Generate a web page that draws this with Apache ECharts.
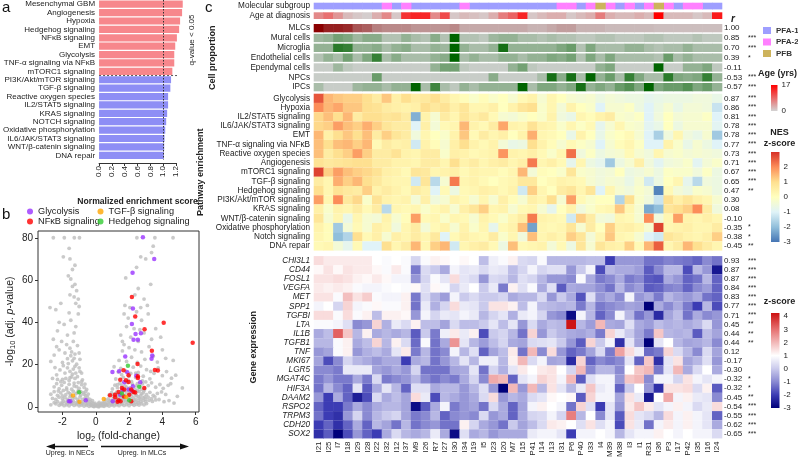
<!DOCTYPE html>
<html><head><meta charset="utf-8">
<script src="https://cdn.jsdelivr.net/npm/echarts@6/dist/echarts.min.js"></script>
<style>html,body{margin:0;padding:0;background:#fff}#c{width:798px;height:460px}</style>
</head><body><div id="c"></div>
<script>
const FONT = 'Liberation Sans, Arial, sans-serif';

// ---------- Panel a ----------
const nesTerms = ['Mesenchymal GBM','Angiogenesis','Hypoxia','Hedgehog signaling','NFκB signaling','EMT','Glycolysis','TNF-α signaling via NFκB','mTORC1 signaling','PI3K/Akt/mTOR signaling','TGF-β signaling','Reactive oxygen species','IL2/STAT5 signaling','KRAS signaling','NOTCH signaling','Oxidative phosphorylation','IL6/JAK/STAT3 signaling','WNT/β-catenin signaling','DNA repair'];
const nesScores = [1.305,1.295,1.264,1.249,1.214,1.188,1.173,1.173,1.143,1.123,1.112,1.077,1.077,1.062,1.047,1.032,1.021,1.016,1.011];
const nSig = 9;

// ---------- Panel b ----------
const greyPts = [
[-2.2,0.8],[-2.05,1.2],[-1.9,0.6],[-1.75,1.0],[-1.6,0.5],[-1.45,1.3],[-1.3,0.7],[-1.15,1.1],[-1.0,0.5],[-0.85,0.9],[-0.7,0.4],[-0.55,0.8],[-0.4,0.3],[-0.25,0.6],[-0.1,0.2],[0.05,0.4],[0.2,0.2],[0.35,0.5],[0.5,0.3],[0.65,0.7],[0.8,0.4],[0.95,0.9],[1.1,0.5],[1.25,1.0],[1.4,0.6],[1.55,1.2],[1.7,0.7],[1.85,1.1],[2.0,0.6],[2.15,1.3],[2.3,0.8],[2.45,1.2],[2.6,0.9],[2.75,1.5],[2.9,1.0],[3.05,1.6],
[-0.3,0.9],[-0.15,0.3],[0.1,0.7],[0.25,0.9],[0.45,0.6],[0.7,1.1],[0.15,0.1],[-0.05,0.6],[0.55,1.3],[0.3,1.4],[-0.5,1.4],[-0.95,1.4],[1.0,1.3],[1.3,1.5],[1.6,1.6],[1.95,1.7],[2.25,1.6],[2.55,1.9],[-1.7,1.6],[-2.0,1.9],[-2.4,1.5],[-2.7,1.0],[-1.4,1.8],[-1.1,1.8],[-0.8,1.6],
[-2.5,2.0],[-2.3,2.5],[-2.1,1.8],[-1.95,2.8],[-1.8,2.2],[-1.65,3.0],[-1.5,2.0],[-1.35,2.7],[-1.2,1.9],[-1.05,2.6],[-0.9,1.7],[-0.75,2.3],[-0.6,1.5],[-0.45,2.0],[-0.3,1.3],[-0.15,1.6],[0.0,1.1],[0.15,1.4],[0.3,1.0],[0.45,1.7],[0.6,1.4],[0.75,2.0],[0.9,1.6],[1.05,2.4],[1.2,1.8],[1.35,2.6],[1.5,2.1],[1.65,2.9],[1.8,2.3],[1.95,2.7],[2.1,2.0],[2.25,2.8],[2.4,2.2],[2.55,2.9],[2.7,2.4],[2.85,3.0],[3.0,2.5],[3.2,3.1],[3.4,2.6],[3.6,3.3],
[-2.6,4.0],[-2.4,3.5],[-2.2,4.6],[-2.0,3.8],[-1.85,4.5],[-1.7,3.6],[-1.55,4.8],[-1.4,3.9],[-1.25,4.4],[-1.1,3.6],[-0.95,4.7],[-0.8,3.5],[-0.65,4.0],[-0.5,3.2],[-0.35,3.6],[0.6,3.3],[0.75,3.8],[0.9,3.1],[1.05,4.2],[1.2,3.5],[1.35,4.6],[1.5,3.7],[1.65,4.4],[1.8,3.4],[1.95,4.8],[2.1,3.9],[2.25,4.5],[2.4,3.6],[2.55,4.9],[2.7,3.8],[2.85,4.3],[3.0,3.7],[3.15,4.6],[3.35,3.9],[3.55,4.8],[3.8,3.5],[4.1,2.5],[4.4,3.0],[4.7,1.8],
[-2.7,6.0],[-2.5,7.2],[-2.3,5.5],[-2.1,6.6],[-1.95,7.8],[-1.8,5.8],[-1.65,6.9],[-1.5,5.4],[-1.35,7.4],[-1.2,6.2],[-1.05,7.7],[-0.9,5.6],[-0.75,6.8],[-0.6,5.3],[-0.45,6.1],[0.8,5.6],[0.95,6.8],[1.1,5.2],[1.25,7.0],[1.4,6.0],[1.55,7.5],[1.7,5.5],[1.85,6.7],[2.0,7.9],[2.15,5.7],[2.3,6.9],[2.45,5.3],[2.6,7.3],[2.75,6.2],[2.9,7.6],[3.05,5.8],[3.25,6.9],[3.45,5.5],[3.7,6.4],[3.95,7.1],[4.2,5.9],
[-2.5,9.5],[-2.35,11.0],[-2.2,8.6],[-2.05,10.2],[-1.9,11.6],[-1.75,9.0],[-1.6,10.7],[-1.45,8.4],[-1.3,11.3],[-1.15,9.6],[-1.0,8.8],[-0.85,10.5],[-0.7,9.2],[-0.55,8.3],[1.0,8.5],[1.15,10.3],[1.3,9.1],[1.45,11.2],[1.6,8.7],[1.75,10.0],[1.9,11.5],[2.05,9.0],[2.2,10.8],[2.35,8.4],[2.5,11.0],[2.65,9.6],[2.8,10.9],[2.95,8.6],[3.15,10.1],[3.35,11.4],[3.6,9.3],[3.85,10.6],[4.05,8.8],[4.35,10.2],
[-2.6,13.5],[-2.35,15.2],[-2.15,17.5],[-2.0,13.0],[-1.85,16.0],[-1.7,18.5],[-1.55,13.8],[-1.4,15.5],[-1.25,19.2],[-1.1,14.3],[-0.95,16.8],[-0.8,12.8],[-1.35,17.9],[-1.6,12.5],[-1.95,19.5],[-2.45,18.6],[1.2,13.2],[1.35,16.5],[1.5,18.2],[1.65,14.0],[1.8,17.0],[1.95,12.6],[2.1,15.8],[2.25,18.8],[2.4,13.9],[2.55,16.3],[2.7,19.3],[2.85,14.5],[3.05,17.6],[3.25,13.3],[3.5,15.9],[3.75,18.4],[4.0,14.8],[4.25,16.7],[4.55,13.6],[1.1,19.0],
[-2.7,21.5],[-2.5,24.5],[-2.2,27.0],[-2.0,21.0],[-1.85,25.5],[-1.7,22.8],[-1.55,27.8],[-1.4,21.8],[-1.25,25.0],[-1.1,29.0],[-0.95,22.5],[-1.45,26.0],[-1.75,29.5],[-2.35,28.5],[1.4,22.0],[1.6,26.5],[1.85,21.5],[2.0,28.0],[2.15,23.5],[2.35,27.0],[2.5,21.0],[2.75,26.0],[2.95,22.5],[3.2,28.5],[3.45,24.0],[3.7,21.2],[4.0,27.0],[4.2,23.0],[4.65,22.0],[1.7,29.5],
[-2.55,32],[-2.3,36],[-2.05,31],[-1.9,39],[-1.7,34],[-1.5,41],[-1.35,31],[-1.2,38],[-1.05,44],[-1.3,35],[-1.6,44.5],[-2.2,40],[1.5,34],[1.6,31],[1.85,38],[1.95,42],[2.1,33],[2.3,37],[2.55,31],[2.75,41],[2.9,35],[3.15,44],[3.35,32],[3.6,37],[3.9,33],[2.45,45],[1.7,44],[2.65,36.5],
[-2.75,47],[-2.4,46],[-1.65,62],[-1.5,60.5],[-1.4,57],[-1.25,58],[-1.15,55],[-1.3,52],[-1.05,51],[-1.2,49],[-1.0,47.5],[-1.55,53],[-2.1,49],[1.8,61],[1.75,48],[2.05,47],[2.45,66],[2.55,56],[2.9,51],[3.1,48],[2.35,53],[3.3,58],[2.7,47],
[-2.55,80],[-1.89,80],[-1.29,80],[-0.98,80],[2.47,80],[3.55,80],[4.64,80],[-1.6,75],[-1.95,71],[-1.55,70],[3.45,76],[3.35,73],[2.7,71],[3.0,70],[-1.25,67],[-1.4,65],
[4.5,11],[4.9,5],[5.2,9],[4.8,15],
[-2.25,7.5],[-2.0,5.2],[-1.75,8.2],[-1.55,6.3],[-1.3,9.9],[-1.1,6.8],[-0.9,7.2],[-0.7,6.0],[-0.65,10.8],[-0.85,12.0],[-1.05,11.5],[-1.25,13.5],[-1.45,14.2],[-1.2,16.0],[-1.0,18.5],[-1.55,16.8],[-1.8,13.5],[-2.1,11.9],[-2.3,13.0],[-1.65,20.5],[-1.3,23.0],[-1.15,20.2],[-1.5,24.2],[-1.0,25.5],[-0.85,16.0],[-0.6,7.3],[-0.5,4.6],[-0.35,2.6],[-0.2,3.0],[-0.25,1.9],
[1.05,5.8],[1.2,6.3],[1.35,5.4],[1.5,4.4],[1.6,6.8],[1.75,7.7],[1.9,5.1],[2.05,6.3],[2.2,7.2],[2.4,5.9],[2.5,7.8],[2.7,5.3],[2.85,6.7],[1.25,3.3],[1.45,3.0],[1.7,3.8],[2.0,3.2],[2.3,3.1],[2.6,4.2],[2.95,4.8],[1.3,10.5],[1.55,10.1],[1.85,9.3],[2.15,11.9],[2.45,10.0],[2.75,8.3],[3.0,11.8],[1.55,15.3],[2.0,14.5],[2.4,16.0],[2.8,12.3],[3.3,16.8],[0.4,1.9],[0.55,2.3],[0.8,2.7],[-0.05,1.8],[0.2,2.1]
];
const glycolysisPts = [[2.83,80.2],[3.51,70],[2.21,63.5],[2.23,46.5],[2.17,39.2],[2.39,34.5],[2.27,31.8],[2.53,31.8],[2.71,34.8],[3.39,24.3],[1.77,23.9],[1.0,16.5],[1.4,16.9],[1.89,16.4],[1.71,11.7],[2.43,14.8],[2.67,11.7],[2.23,9.8],[1.61,8.0],[1.97,8.2],[2.17,7.7],[1.47,5.8],[1.02,2.7],[-1.61,2.7],[-1.53,2.7],[-0.6,3.1],[3.35,22.8]];
const nfkbPts = [[2.17,52],[2.37,42.8],[2.93,36.7],[4.08,39.8],[5.82,30.4],[3.37,26.6],[3.55,17.5],[3.73,17.2],[2.51,20.3],[1.67,17.3],[1.97,15.0],[2.53,14.5],[2.53,13.7],[1.47,12.9],[1.81,12.6],[1.97,11.8],[1.57,9.0],[1.16,5.8],[0.86,5.5],[1.37,7.1],[1.71,8.3],[2.13,8.3],[2.27,7.1],[2.37,6.8],[2.91,9.0],[1.37,3.1],[1.49,2.7],[1.31,2.4],[2.13,2.7],[1.69,4.9],[2.01,5.8],[1.16,4.6]];
const tgfbPts = [[-1.37,5.4],[-0.98,2.5],[0.48,3.8],[1.83,4.7]];
const hedgehogPts = [[-1.0,6.9],[1.93,19.5],[2.61,9.6],[2.01,3.1],[1.57,6.3]];

// ---------- Panel c ----------
const samples = ['I21','I25','I7','I18','I29','I28','I22','I32','I12','I37','M9','I26','R7','I27','I30','I34','I19','I5','I23','I20','M7','I15','P41','I14','I13','I31','P6','P40','I33','I4','M39','M38','I3','I1','R31','I36','P3','I17','P42','I35','I16','I24'];
const subgroup = ['PFA-1','PFA-1','PFA-1','PFA-1','PFA-1','PFA-1','PFA-1','PFA-2','PFA-1','PFA-2','PFA-1','PFA-1','PFA-1','PFA-1','PFA-1','PFA-2','PFA-1','PFA-1','PFA-1','PFA-1','PFA-1','PFA-1','PFA-1','PFA-1','PFA-1','PFA-2','PFA-2','PFA-1','PFA-2','PFB','PFA-2','PFA-1','PFA-2','PFA-1','PFA-2','PFB','PFA-2','PFA-1','PFA-2','PFA-2','PFA-1','PFA-1'];
const subgroupNames = ['PFA-1','PFA-2','PFB'];
const subgroupColors = ['#9e9eff','#ff80ff','#cdb35c'];
const ageYrs = [6,8,5,2,1,0.5,3,6,1,13,14,14,6,11,1,2,1.5,1,3,7,9,14, 1,2,3,3,1,2,3,7,3,2,2,3,2,17,2,2,2,1,2,15];

const cellTypes = ['MLCs','Mural cells','Microglia','Endothelial cells','Ependymal cells','NPCs','IPCs'];
const cellR = [1.00,0.85,0.70,0.39,-0.11,-0.53,-0.57];
const cellStars = ['','***','***','*','','***','***'];
const propMLC = [1.0,0.85,0.85,0.8,0.6,0.55,0.4,0.35,0.35,0.35,0.3,0.3,0.3,0.3,0.35,0.2,0.2,0.2,0.2,0.2,0.2,0.2, 0.15,0.15,0.2,0.25,0.25,0.15,0.15,0.15,0.12,0.12,0.12,0.12,0.12,0.1,0.1,0.1,0.1,0.1,0.1,0.1];
const propMural = [0.25,0.3,0.45,0.4,0.25,0.35,0.35,0.15,0.15,0.3,0.2,0.15,0.35,0.15,1.0,0.15,0.15,0.1,0.25,0.3,0.3,0.2, 0.2,0.15,0.2,0.15,0.15,0.1,0.1,0.15,0.15,0.1,0.1,0.1,0.15,0.15,0.1,0.1,0.1,0.15,0.1,0.1];
const propMicroglia = [0.3,0.3,0.8,0.75,0.3,0.3,0.35,0.2,0.3,0.35,0.2,0.2,0.3,0.25,1.0,0.3,0.2,0.2,0.3,0.9,0.3,0.3, 0.3,0.3,0.3,0.4,0.5,0.15,0.4,0.2,0.2,0.2,0.3,0.3,0.2,0.15,0.2,0.2,0.3,0.2,0.2,0.2];
const propEndothelial = [0.15,0.3,0.2,0.45,0.2,0.4,0.75,0.2,0.35,0.2,0.2,0.2,0.3,0.35,1.0,0.2,0.3,0.2,0.2,0.3,0.3,0.2, 0.3,0.3,0.4,0.35,0.45,0.15,0.4,0.2,0.4,0.2,0.2,0.2,0.2,0.15,0.5,0.2,0.3,0.2,0.2,0.2];
const propEpendymal = [0.05,0.05,0.25,0.1,0.05,0.05,0.05,0.05,0.05,0.05,0.05,0.05,0.3,0.45,0.45,0.1,0.05,0.05,0.05,0.05,0.3,0.45, 0.1,0.05,0.05,0.05,0.05,0.05,0.05,0.3,0.4,0.05,0.05,0.05,0.05,1.0,0.05,0.05,0.3,0.3,0.4,0.1];
const propNPC = [0.05,0.05,0.05,0.05,0.05,0.05,0.5,0.05,0.05,0.05,0.05,0.05,0.05,0.05,0.05,0.05,0.05,0.05,0.35,0.05,0.05,0.05, 0.05,0.2,0.9,0.35,0.9,0.2,1.0,0.3,0.5,0.2,0.75,0.4,0.2,0.2,0.8,0.4,0.35,0.4,0.75,0.3];
const propIPC = [0.2,0.05,0.05,0.05,0.25,0.3,0.3,0.2,0.3,0.3,1.0,0.2,0.7,0.2,0.1,0.3,0.2,0.3,0.3,0.3,0.3,1.0, 0.2,0.4,0.4,0.3,0.4,0.9,0.3,0.4,0.3,0.5,0.6,0.4,1.0,0.4,0.5,0.5,0.6,0.4,0.5,0.3];
const cellProp = [propMLC, propMural, propMicroglia, propEndothelial, propEpendymal, propNPC, propIPC];

const pathways = ['Glycolysis','Hypoxia','IL2/STAT5 signaling','IL6/JAK/STAT3 signaling','EMT','TNF-α signaling via NFκB','Reactive oxygen species','Angiogenesis','mTORC1 signaling','TGF-β signaling','Hedgehog signaling','PI3K/Akt/mTOR signaling','KRAS signaling','WNT/β-catenin signaling','Oxidative phosphorylation','Notch signaling','DNA repair'];
const pathwayR = [0.87,0.86,0.81,0.78,0.78,0.77,0.73,0.71,0.67,0.65,0.47,0.30,0.08,-0.10,-0.35,-0.38,-0.45];
const pathwayStars = ['***','***','***','***','***','***','***','***','***','***','**','','','','*','*','**'];
const pathwayNES = [
[2.6,1.5,1.3,1.2,1.2,1.0,0.6,1.3,0.5,1.0,0.6,0.7,1.0,0.6,0.3,0.1,-0.2,0.1,-0.2,0.0,-0.3,0.2, 0.4,-0.3,0.3,0.0,-0.3,-0.4,-0.3,-0.6,-0.4,-0.5,-0.6,-0.6,-0.8,-0.7,-0.6,-0.6,-0.6,-0.5,-0.5,-0.7],
[2.0,1.5,1.7,1.3,1.3,1.0,0.9,0.6,0.5,0.4,0.5,1.0,0.7,0.9,0.5,0.8,0.3,0.3,0.5,0.0,0.4,0.8, 1.0,-0.2,0.3,-0.4,0.4,0.0,-0.2,-1.0,-0.3,-0.3,-0.1,-0.6,-1.0,-0.6,-0.3,-0.7,-0.4,-0.4,-0.5,-1.3],
[1.1,1.4,1.0,1.5,0.6,1.0,1.0,0.8,0.9,0.6,-2.2,0.4,-0.3,0.6,0.3,0.8,0.5,0.7,0.2,-0.3,-0.4,-0.2, 0.0,-0.2,0.4,-0.5,-0.7,0.3,0.1,0.4,0.6,-0.2,-0.3,-0.1,-1.0,-0.5,0.0,-0.4,-0.3,-0.3,-0.1,-1.0],
[1.1,1.2,1.8,1.4,1.2,1.6,1.2,0.8,0.6,0.6,-1.0,0.5,-0.4,0.2,0.3,1.5,0.4,0.2,0.6,1.7,0.4,0.3, 0.9,0.4,0.3,-0.2,0.3,-0.1,0.2,-0.8,-0.3,0.3,-0.2,-0.3,-0.9,-0.7,0.0,-0.6,-0.3,-0.3,-0.3,-0.9],
[1.5,0.5,1.0,1.3,1.0,1.4,0.6,1.2,0.8,0.6,-0.5,0.3,0.0,-0.2,0.4,1.3,0.2,0.6,0.3,0.5,0.0,0.4, 1.6,0.3,0.2,0.0,-0.7,0.4,0.0,-0.7,-0.2,0.0,0.2,-0.3,-1.0,-1.7,-0.5,0.3,-0.5,-0.7,-0.3,-1.8],
[1.4,1.0,1.4,1.5,1.2,1.5,0.2,0.6,0.4,0.5,-1.2,0.4,0.1,-0.3,0.5,1.0,0.4,0.2,0.4,-0.4,-0.7,-0.6, 1.0,0.4,0.1,-0.3,0.2,-0.1,-0.3,-1.0,-0.3,0.1,0.3,-0.1,-1.0,-1.0,0.4,-0.2,-0.7,-0.3,-0.6,-1.0],
[1.4,0.6,1.0,1.2,1.8,1.2,0.6,0.6,0.9,0.4,0.3,0.6,0.6,-0.2,0.5,0.4,0.2,0.3,0.4,1.9,0.4,0.3, 0.5,0.2,-0.2,0.3,2.3,-0.5,-0.1,-0.6,-0.4,-0.3,0.2,-0.3,-0.5,0.3,-0.3,-0.2,-0.4,-0.3,-0.4,-0.5],
[0.9,0.7,0.8,0.9,1.0,1.0,0.6,0.6,0.4,0.4,0.3,0.6,0.6,0.3,1.0,0.4,0.6,0.3,0.5,0.6,0.3,0.5, 2.2,0.3,0.5,0.2,-0.8,0.3,-0.6,-0.8,-1.8,-0.6,-0.3,0.5,-0.5,-0.9,-0.5,-0.4,-0.2,-0.9,-0.4,-0.2],
[2.8,1.2,1.8,1.4,1.2,1.1,0.9,0.5,0.4,0.2,0.8,0.7,0.3,0.4,0.5,0.2,0.4,0.3,0.3,0.1,0.3,1.5, -0.4,0.1,0.0,-0.2,0.8,-0.2,-0.3,-0.5,-0.4,0.0,-0.6,-0.5,-0.3,-0.6,-0.1,-0.2,-0.2,-0.5,-0.1,-0.6],
[0.6,0.3,1.6,1.2,1.5,1.0,0.7,0.4,0.3,0.3,-1.2,0.8,-1.5,-0.3,2.2,0.3,0.4,0.2,0.0,0.2,0.3,0.7, 0.7,0.0,0.2,0.4,0.3,0.2,-0.3,-0.5,-0.3,-0.4,-0.7,-0.3,-1.2,-0.6,0.0,0.3,-0.8,-1.5,-0.5,-0.6],
[1.0,0.3,0.9,0.7,0.6,1.2,0.4,0.6,0.4,0.2,0.6,0.4,-1.0,0.2,-0.6,0.2,0.3,0.5,0.4,0.2,0.4,-1.2, 1.2,0.3,0.0,0.6,0.8,0.3,0.8,-1.0,0.3,-0.3,-0.5,-0.2,-0.4,-2.8,0.2,-0.4,-0.6,-0.2,-0.3,-0.6],
[1.8,0.3,2.0,0.7,1.1,-0.2,0.9,0.4,0.3,0.4,-0.4,0.5,-0.5,-0.3,0.4,0.2,-0.3,0.3,-0.3,0.5,0.1,-0.3, 0.5,0.3,1.0,-0.3,1.8,0.2,-0.2,0.0,0.0,-1.6,1.0,-0.2,-0.5,-1.3,1.0,0.5,0.8,0.5,0.3,-0.3],
[0.5,-0.2,0.4,0.3,0.6,0.2,0.6,-1.5,0.3,0.2,0.3,-0.2,0.2,0.4,-0.3,0.5,0.8,1.2,0.3,0.4,-0.3,0.2, 0.3,-0.3,-0.8,0.0,0.4,-0.5,-0.2,0.2,0.3,1.3,0.3,-0.3,-2.3,-2.0,0.8,1.0,1.2,2.0,0.6,-0.5],
[0.8,-0.3,0.3,-0.7,0.3,-0.3,-0.4,0.4,-0.3,0.1,1.8,0.2,0.3,-0.2,0.3,0.2,-0.3,0.4,0.2,-0.2,0.3,0.6, 2.2,0.4,0.3,0.2,-1.2,1.2,0.6,-0.4,-0.5,0.3,0.2,-0.3,2.0,-0.5,0.3,1.8,0.4,0.3,0.5,0.3],
[0.4,0.1,-1.8,-0.4,0.2,-0.3,0.5,0.3,-0.5,0.3,0.6,-0.4,0.2,0.4,-0.3,0.4,-0.2,0.3,-0.8,0.2,0.4,1.4, -2.4,0.3,0.2,0.3,0.8,-0.3,0.6,0.0,1.2,0.4,0.5,0.3,-0.3,2.8,0.3,0.4,0.5,0.3,0.3,0.6],
[0.3,0.1,-2.0,-1.6,1.0,0.2,0.5,-0.3,0.5,0.3,0.6,0.3,0.7,-1.0,0.2,0.5,0.3,0.2,0.6,-0.2,0.3,-0.5, 1.4,0.3,0.5,0.3,1.2,0.8,-0.4,0.3,1.3,0.3,0.2,-0.3,-1.0,-1.2,0.8,0.6,0.4,0.3,0.5,1.2],
[0.2,0.3,-0.4,-0.8,0.2,-1.0,-1.0,1.0,0.3,0.6,1.5,0.3,1.2,1.5,-1.2,0.3,0.5,0.6,0.2,-0.6,1.4,0.2, 0.3,0.4,-0.4,0.2,-0.6,0.8,-0.3,0.8,0.5,0.4,1.2,0.2,1.5,2.5,0.3,0.6,1.5,1.0,0.6,0.3]
];

const genes = ['CHI3L1','CD44','FOSL1','VEGFA','MET','SPP1','TGFBI','LTA','IL1B','TGFB1','TNF','MKI67','LGR5','MGAT4C','HIF3A','DAAM2','RSPO2','TRPM3','CDH20','SOX2'];
const geneR = [0.93,0.87,0.87,0.84,0.83,0.77,0.71,0.45,0.44,0.44,0.12,-0.17,-0.30,-0.32,-0.32,-0.45,-0.54,-0.55,-0.62,-0.65];
const geneStars = ['***','***','***','***','***','***','***','**','**','**','','','','*','*','**','***','***','***','***'];
const geneZ = [
[1.5,1.3,1.3,1.3,1.3,1.3,1.0,0.9,1.0,0.9,0.2,0.9,1.2,1.1,1.0,1.1,1.0,-0.2,0.7,0.9,1.2,0.3, 0.2,0.9,-0.3,-0.3,-0.3,-0.3,-0.2,-0.2,-2.0,-0.8,-0.8,-0.8,-1.3,-1.3,-1.1,-1.2,-1.3,-1.5,-1.0,-1.3],
[1.1,1.4,1.1,1.4,1.3,1.3,1.1,0.9,1.3,0.9,-1.2,0.3,0.0,-0.5,0.8,0.5,0.6,0.3,0.6,0.5,-0.2,0.2, 0.8,0.2,0.4,0.4,-0.8,0.0,0.8,-1.8,-0.3,-0.5,-0.5,-0.7,-1.6,-1.0,-0.3,-0.3,-1.8,-0.3,-0.8,-2.6],
[1.4,1.4,1.5,1.4,1.2,1.1,1.3,1.1,0.8,0.8,-0.8,0.2,0.9,0.5,1.5,0.5,0.3,-0.8,0.3,0.2,-0.3,0.4, 0.2,-0.3,-0.8,-0.8,-1.0,0.9,-0.5,-1.2,-1.0,-0.5,-1.2,-1.0,-1.6,-1.7,-0.5,-0.8,-1.5,-1.3,-0.3,-1.5],
[1.3,1.2,1.3,1.2,0.9,0.8,0.8,0.9,1.0,0.9,1.1,0.4,1.1,0.9,0.2,0.6,1.0,0.0,0.6,-1.2,1.2,0.4, 0.9,-0.5,0.4,-1.6,-0.5,-0.6,-0.6,-0.9,-1.3,-0.3,-1.0,-0.7,-1.6,-1.5,-1.1,-1.0,-1.5,-1.0,-0.7,-1.5],
[1.4,1.4,0.9,1.9,1.4,1.7,0.9,0.8,0.8,1.2,-1.2,0.3,-0.3,-0.7,0.8,0.0,0.3,0.0,0.0,0.2,-0.5,-0.3, -0.3,0.3,-0.8,0.0,-0.5,-1.7,0.4,-0.8,-0.5,-1.0,0.8,-0.8,-0.5,-1.2,-0.3,-0.6,-0.8,-0.5,-1.3,-1.5],
[0.8,1.0,0.2,1.6,0.8,0.9,1.1,0.9,0.9,1.2,-1.3,0.6,-0.4,0.2,1.5,0.6,0.5,0.0,1.4,1.4,1.2,-0.2, 0.8,-0.2,-0.3,-0.4,-0.3,-1.2,-0.3,-1.2,-1.0,-0.8,-0.6,-0.7,-3.0,-0.5,-1.0,-0.5,-1.2,-2.0,-0.3,-1.8],
[1.5,1.5,0.9,1.5,0.9,1.2,-0.2,1.2,1.2,1.1,-0.8,0.8,0.2,0.6,0.5,0.8,0.6,-0.3,0.2,0.5,-0.4,0.6, 0.8,0.2,-0.8,-1.0,-2.8,0.8,-0.3,-1.5,-1.0,0.8,-0.3,-1.3,-0.8,-2.3,-0.6,-0.2,-1.3,-0.5,-1.0,-0.8],
[0.9,0.9,0.8,0.4,-1.0,-0.8,1.6,-0.4,0.6,0.3,1.2,-0.2,-0.2,-0.6,0.3,-0.2,-0.2,0.0,0.5,-0.2,0.5,-0.8, 0.3,-0.5,-0.2,-0.3,4.2,-0.3,-0.7,2.0,-0.5,-0.6,0.4,-0.5,-0.7,-0.2,-0.4,-0.3,-0.5,-0.3,0.3,-0.8],
[-0.5,-0.2,3.2,1.8,-0.3,1.2,-0.5,-0.3,-0.5,-0.3,-1.6,0.0,-1.2,0.7,1.3,0.6,1.2,-1.8,0.0,0.2,-0.3,-1.3, 1.6,-0.8,0.0,-0.3,-0.5,-0.6,-0.4,-1.2,1.6,0.6,0.0,-0.6,-1.2,1.8,-0.3,-0.4,-0.3,-1.6,-0.2,-0.6],
[-0.3,-0.3,0.9,1.2,-0.5,-0.2,1.6,-0.3,1.2,0.3,-1.4,0.9,-1.3,-0.5,2.5,0.5,-0.3,-0.7,-0.2,0.2,-0.5,-0.6, 0.3,0.4,0.5,0.0,-0.8,-1.6,1.6,0.0,0.8,-2.2,0.5,-0.6,-3.0,0.5,1.0,-0.3,-0.6,-0.5,-0.3,-1.0],
[-0.8,-0.6,0.9,1.2,-0.8,-0.4,-0.2,-0.5,0.5,1.3,-1.2,-0.3,-1.3,-1.0,0.8,-0.3,0.4,-1.5,-0.6,-0.2,1.3,-1.3, 2.0,-1.0,1.5,-0.8,-1.5,-1.2,-0.6,0.3,-1.2,2.3,1.5,0.7,-1.4,-1.2,1.6,0.3,-0.3,-1.0,0.3,-0.6],
[-0.6,-1.8,-1.0,0.2,-0.3,-0.5,-0.8,-0.5,-0.5,-2.0,-0.5,-0.3,-1.3,-0.8,-0.3,0.5,-0.3,0.7,0.7,-0.3,1.2,2.0, 0.3,0.8,-0.6,-0.5,-2.3,1.6,-1.5,-1.0,-1.2,-1.0,0.5,-1.5,1.8,-2.2,0.5,1.4,-0.6,-0.3,0.4,-0.8],
[-1.0,-1.0,-1.2,0.6,0.6,0.6,-0.6,-0.8,-0.5,-0.8,0.2,-1.3,-1.3,-1.3,-0.6,-0.5,0.5,-1.3,0.2,-0.4,0.5,1.3, 1.0,1.3,1.4,1.0,0.2,2.0,-1.0,-0.3,-0.3,-1.0,1.0,1.8,2.0,-1.2,0.5,2.0,-0.5,0.3,1.0,-0.5],
[-1.2,-0.8,-1.2,-1.2,-0.5,-1.2,0.3,-1.2,-1.0,-0.8,-0.3,-1.0,-1.3,-1.0,-1.2,-0.5,0.2,-1.0,2.2,2.0,-1.5,0.5, 0.8,1.6,1.4,0.8,2.0,-1.6,0.4,0.8,0.8,-0.8,1.8,2.0,-1.0,0.8,0.8,0.2,1.4,0.8,0.5,0.8],
[-1.3,-0.3,-1.0,-1.5,0.5,-1.6,-0.5,0.5,-0.3,-1.5,0.4,0.4,-0.5,-0.3,-0.3,-0.8,-0.3,0.4,-0.8,-3.0,2.0,-0.8, 2.0,-0.3,1.4,0.5,-0.3,0.6,1.8,0.6,0.8,-1.5,0.0,1.0,-0.8,-2.2,1.4,1.4,1.5,0.3,1.2,-1.6],
[-0.8,-2.0,-0.5,-1.5,-2.5,-1.8,0.3,-0.5,-0.2,-0.6,1.5,0.6,-1.8,-0.3,-0.5,-0.8,-0.5,0.3,1.5,-0.8,-0.3,-0.5, 0.3,0.5,1.1,1.0,1.1,-1.6,1.6,0.8,0.8,-0.6,1.4,0.6,-2.6,1.0,2.2,0.8,1.2,0.6,0.5,-1.0],
[-1.5,-2.0,-2.0,-1.2,-0.5,-1.0,-0.5,-0.3,-0.3,-0.6,-2.8,-1.6,-0.5,0.8,-1.2,-0.8,-0.6,-1.3,0.3,-0.5,-1.5,-0.6, 0.8,1.2,1.0,0.8,-1.3,1.6,0.4,-2.0,0.5,-0.8,1.3,1.8,1.3,0.5,0.8,1.2,0.8,0.3,0.6,1.5],
[-1.3,-2.0,-2.2,-0.8,0.2,-1.0,-0.3,0.0,0.2,-0.6,-1.2,-1.0,-0.3,-1.5,-1.0,-0.8,-1.0,0.3,-0.8,-0.5,-1.5,-0.5, 0.2,0.3,0.8,0.2,2.8,-0.3,1.0,-1.0,0.5,-1.6,1.5,0.5,0.3,-0.3,1.5,0.8,1.2,0.8,0.5,-1.5],
[-2.0,-1.5,-2.2,-1.5,-0.5,-1.5,-0.3,-0.6,-1.3,-0.3,-1.3,-1.0,-0.8,-1.3,-1.3,1.2,0.2,-0.5,-0.8,-1.3,0.0,-0.6, -0.2,0.3,1.3,1.2,1.0,0.4,1.4,0.4,0.8,-1.8,1.4,0.6,-1.3,0.8,1.3,0.8,1.2,0.8,0.5,-0.5],
[-2.2,-1.6,-3.0,-1.8,-0.8,-1.5,-2.0,-0.5,0.3,-0.3,-0.5,-0.3,0.6,-0.5,-2.8,0.4,-0.5,-0.3,-0.8,-0.5,-0.5,-0.5, 0.6,0.8,0.8,0.5,-2.0,0.8,0.8,1.0,0.8,-0.3,0.5,0.8,0.8,1.2,1.0,0.8,1.0,0.8,0.8,0.3]
];

// ---------- colour scales ----------
const ageStops = [[0,'#d3d3d3'],[17,'#ff0000']];
const greenStops = [[0,'#d3d3d3'],[1,'#006400']];
const mlcStops = [[0,'#d3d3d3'],[1,'#8b0000']];
const nesStops = [[-3,'#4575b4'],[-2,'#91bfdb'],[-1,'#e0f3f8'],[0,'#ffffbf'],[1,'#fee090'],[2,'#fc8d59'],[3,'#d73027']];
const geneStops = [[-3,'#00007a'],[-2,'#3c3cb4'],[-1,'#8a8ad2'],[0,'#cacaec'],[1,'#ffffff'],[2,'#f2b8b8'],[3,'#e67070'],[4.25,'#cc1111']];

function hex2rgb(h){h=h.replace('#','');return [parseInt(h.slice(0,2),16),parseInt(h.slice(2,4),16),parseInt(h.slice(4,6),16)];}
function scaleColor(stops, v){
  if (v <= stops[0][0]) return stops[0][1];
  const last = stops[stops.length-1];
  if (v >= last[0]) return last[1];
  for (let i = 1; i < stops.length; i++) {
    if (v <= stops[i][0]) {
      const a = hex2rgb(stops[i-1][1]), b = hex2rgb(stops[i][1]);
      const t = (v - stops[i-1][0]) / (stops[i][0] - stops[i-1][0]);
      return 'rgb(' + [0,1,2].map(k => Math.round(a[k] + (b[k]-a[k])*t)).join(',') + ')';
    }
  }
  return last[1];
}
function gradientFill(stops){
  const lo = stops[0][0], hi = stops[stops.length-1][0];
  return {type:'linear', x:0, y:0, x2:0, y2:1,
    colorStops: stops.slice().reverse().map(s => ({offset:(hi - s[0])/(hi - lo), color:s[1]}))};
}

function matrixData(rows){
  const out = [];
  rows.forEach((row, r) => row.forEach((v, c) => out.push([c, r, v])));
  return out;
}
function cellRenderer(gap, colorOf){
  return function(params, api){
    const c = api.value(0), r = api.value(1), v = api.value(2);
    const p = api.coord([c, r]);
    const s = api.size([1, 1]);
    return {type:'rect', shape:{x:p[0]-s[0]/2-0.3, y:p[1]-s[1]/2+gap/2, width:s[0]+0.6, height:s[1]-gap},
      style:{fill: colorOf(v, r)}};
  };
}
function colorbarRenderer(stops){
  return function(params, api){
    const top = api.coord([0, api.value(2)]);
    const bot = api.coord([0, api.value(1)]);
    const w = api.size([1, 0])[0];
    return {type:'rect', shape:{x:top[0]-w/2, y:top[1], width:w, height:bot[1]-top[1]}, style:{fill: gradientFill(stops)}};
  };
}

const txt = '#222';
const catX = (grid, show) => ({type:'category', gridIndex:grid, data:samples, show:show,
  axisLine:{show:false}, axisTick:{show:false},
  axisLabel:{show:show, rotate:90, interval:0, fontSize:8, margin:3, color:txt}});
const leftCat = (grid, data, extra) => Object.assign({type:'category', gridIndex:grid, data:data, inverse:true,
  axisLine:{show:false}, axisTick:{show:false},
  axisLabel:{fontSize:8.2, margin:4, color:txt, interval:0}}, extra || {});
const rightCat = (grid, data, rArr, sArr) => ({type:'category', gridIndex:grid, data:data, inverse:true, position:'right',
  axisLine:{show:false}, axisTick:{show:false},
  axisLabel:{interval:0, margin:2, color:txt,
    formatter:(v, i) => '{r|' + rArr[i].toFixed(2) + '}{s|' + sArr[i] + '}',
    rich:{r:{width:24, fontSize:8, color:txt}, s:{fontSize:7, color:txt}}}});
const barAxis = (grid, min, max, vals, name, gap) => ({type:'value', gridIndex:grid, min:min, max:max, interval:1, position:'right',
  axisLine:{show:false}, axisTick:{show:false}, splitLine:{show:false},
  axisLabel:{customValues:vals, fontSize:8, margin:4, color:txt},
  name:name, nameLocation:'end', nameGap:gap,
  nameTextStyle:{fontWeight:'bold', fontSize:9, align:'center', color:txt, lineHeight:11}});

const chart = echarts.init(document.getElementById('c'), null, {renderer:'canvas'});

const subgroupSeries = subgroupNames.map((nm, k) => ({
  type:'custom', name:nm, xAxisIndex:2, yAxisIndex:3, encode:{x:0, y:1},
  itemStyle:{color:subgroupColors[k]}, silent:true,
  data: subgroup.map((g, c) => g === nm ? [c, 0, 0] : null).filter(d => d),
  renderItem: cellRenderer(2.9, () => subgroupColors[k])
}));

const option = {
  animation:false,
  backgroundColor:'#ffffff',
  textStyle:{fontFamily:FONT},
  grid:[
    {left:97, top:-0.5, width:79, height:160},
    {left:38, top:231, width:161, height:181, show:true, borderColor:'#333', borderWidth:1},
    {left:314, top:1.25, width:408, height:19.2},
    {left:314, top:23.25, width:408, height:68.8},
    {left:314, top:93.7, width:408, height:156.9},
    {left:314, top:256.1, width:408, height:185.2},
    {left:771, top:85, width:8.5, height:26},
    {left:771, top:152, width:8.5, height:90},
    {left:771, top:313, width:8.5, height:95}
  ],
  legend:[
    {data:['Glycolysis','NFκB signaling'], left:27, top:206.5, padding:0, orient:'vertical', icon:'circle', itemWidth:6, itemHeight:6, itemGap:0, itemTextGap:5, selectedMode:false,
      textStyle:{fontSize:9.2, color:txt, lineHeight:10}},
    {data:['TGF-β signaling','Hedgehog signaling'], left:97.5, top:206.5, padding:0, orient:'vertical', icon:'circle', itemWidth:6, itemHeight:6, itemGap:0, itemTextGap:3.5, selectedMode:false,
      textStyle:{fontSize:9.2, color:txt, lineHeight:10}},
    {data:subgroupNames, left:763, top:26.5, padding:0, orient:'vertical', icon:'rect', itemWidth:8, itemHeight:7, itemGap:3.5, itemTextGap:3.5, selectedMode:false,
      textStyle:{fontSize:8, fontWeight:'bold', color:'#333', lineHeight:8}}
  ],
  xAxis:[
    {type:'value', gridIndex:0, min:0, max:1.2, interval:0.2, offset:3.5,
      axisLine:{show:true, onZero:false, lineStyle:{color:'#333'}}, axisTick:{show:true, length:3, lineStyle:{color:'#333'}}, splitLine:{show:false},
      axisLabel:{rotate:90, fontSize:8, margin:3, color:txt, formatter:v => v.toFixed(1)},
      name:'Normalized enrichment score', nameLocation:'middle', nameGap:34,
      nameTextStyle:{fontWeight:'bold', fontSize:8.6, color:txt}},
    {type:'value', gridIndex:1, min:-3.47, max:6.2,
      axisLine:{show:false, onZero:false}, axisTick:{show:true, length:3, lineStyle:{color:'#333'}, customValues:[-2,0,2,4,6]}, splitLine:{show:false},
      axisLabel:{customValues:[-2,0,2,4,6], fontSize:10, margin:5, color:txt},
      name:'log{sub|2} (fold-change)', nameLocation:'middle', nameGap:18,
      nameTextStyle:{fontSize:10.5, color:txt, lineHeight:13, rich:{sub:{fontSize:7.5, verticalAlign:'bottom', lineHeight:8, color:txt}}}},
    catX(2, false), catX(3, false), catX(4, false), catX(5, true),
    {type:'category', gridIndex:6, data:['a'], show:false},
    {type:'category', gridIndex:7, data:['a'], show:false},
    {type:'category', gridIndex:8, data:['a'], show:false}
  ],
  yAxis:[
    {type:'category', gridIndex:0, data:nesTerms, inverse:true, axisLine:{show:false}, axisTick:{show:false},
      axisLabel:{fontSize:8, margin:4, color:txt, interval:0}},
    {type:'value', gridIndex:0, min:-0.5, max:nesTerms.length-0.5, inverse:true, show:false},
    {type:'value', gridIndex:1, min:-2.4, max:83.2,
      axisLine:{show:false, onZero:false}, axisTick:{show:true, length:3, lineStyle:{color:'#333'}, customValues:[0,20,40,60,80]}, splitLine:{show:false},
      axisLabel:{customValues:[0,20,40,60,80], fontSize:10, margin:5, color:txt},
      name:'-log{sub|10} (adj. {i|p}-value)', nameLocation:'middle', nameGap:21, nameRotate:90,
      nameTextStyle:{fontSize:10.5, color:txt, lineHeight:13, rich:{sub:{fontSize:7.5, verticalAlign:'bottom', lineHeight:8, color:txt}, i:{fontStyle:'italic', fontSize:10.5, color:txt}}}},
    leftCat(2, ['Molecular subgroup','Age at diagnosis']),
    leftCat(3, cellTypes, {name:'Cell proportion', nameLocation:'middle', nameRotate:90, nameGap:97, nameTextStyle:{fontWeight:'bold', fontSize:9, color:txt}}),
    rightCat(3, cellTypes, cellR, cellStars),
    leftCat(4, pathways, {name:'Pathway enrichment', nameLocation:'middle', nameRotate:90, nameGap:98, nameTextStyle:{fontWeight:'bold', fontSize:9, color:txt}}),
    rightCat(4, pathways, pathwayR, pathwayStars),
    leftCat(5, genes, {name:'Gene expression', nameLocation:'middle', nameRotate:90, nameGap:56, nameTextStyle:{fontWeight:'bold', fontSize:9, color:txt, fontStyle:'normal'},
      axisLabel:{fontSize:8.2, margin:4, color:txt, interval:0, fontStyle:'italic'}}),
    rightCat(5, genes, geneR, geneStars),
    barAxis(6, 0, 17, [0,17], 'Age (yrs)', 6),
    barAxis(7, -3, 3, [-3,-2,-1,0,1,2], 'NES\nz-score', 3),
    barAxis(8, -3, 4.25, [-3,-2,-1,0,1,2,3,4], 'z-score', 6)
  ],
  series:[
    {type:'bar', xAxisIndex:0, yAxisIndex:0, silent:true, clip:false, barWidth:7.2,
      data: nesScores.map((v, i) => ({value:v, itemStyle:{color: i < nSig ? '#f7878c' : '#8e8ef5'}})),
      markLine:{silent:true, symbol:'none', label:{show:false}, animation:false,
        lineStyle:{color:'#333', type:[1.5,1.5], width:1}, data:[{xAxis:1}]}},
    {type:'line', xAxisIndex:0, yAxisIndex:1, silent:true, clip:false, symbol:'none',
      lineStyle:{color:'#555', width:1, type:[2,2]}, data:[[0, nSig-0.5],[1.5, nSig-0.5]]},
    {type:'scatter', name:'other genes', xAxisIndex:1, yAxisIndex:2, silent:true, symbolSize:3.8,
      itemStyle:{color:'#bdbdbd'}, data:greyPts},
    {type:'scatter', name:'Glycolysis', xAxisIndex:1, yAxisIndex:2, silent:true, symbolSize:4.5, itemStyle:{color:'#9a33ff'}, data:glycolysisPts},
    {type:'scatter', name:'NFκB signaling', xAxisIndex:1, yAxisIndex:2, silent:true, symbolSize:4.5, itemStyle:{color:'#ff0000'}, data:nfkbPts},
    {type:'scatter', name:'TGF-β signaling', xAxisIndex:1, yAxisIndex:2, silent:true, symbolSize:4.5, itemStyle:{color:'#ffa500'}, data:tgfbPts},
    {type:'scatter', name:'Hedgehog signaling', xAxisIndex:1, yAxisIndex:2, silent:true, symbolSize:4.5, itemStyle:{color:'#33cc33'}, data:hedgehogPts},
    ...subgroupSeries,
    {type:'custom', name:'age', xAxisIndex:2, yAxisIndex:3, encode:{x:0, y:1}, silent:true,
      data: ageYrs.map((a, c) => [c, 1, a]),
      renderItem: cellRenderer(2.9, v => scaleColor(ageStops, v))},
    {type:'custom', name:'cells', xAxisIndex:3, yAxisIndex:4, encode:{x:0, y:1}, silent:true,
      data: matrixData(cellProp),
      renderItem: cellRenderer(1.5, (v, r) => scaleColor(r === 0 ? mlcStops : greenStops, v))},
    {type:'custom', name:'pathways', xAxisIndex:4, yAxisIndex:6, encode:{x:0, y:1}, silent:true,
      data: matrixData(pathwayNES),
      renderItem: cellRenderer(0, v => scaleColor(nesStops, v))},
    {type:'custom', name:'genes', xAxisIndex:5, yAxisIndex:8, encode:{x:0, y:1}, silent:true,
      data: matrixData(geneZ),
      renderItem: cellRenderer(0, v => scaleColor(geneStops, v))},
    {type:'custom', xAxisIndex:6, yAxisIndex:10, encode:{x:0, y:[1,2]}, silent:true, data:[[0, 0, 17]], renderItem: colorbarRenderer(ageStops)},
    {type:'custom', xAxisIndex:7, yAxisIndex:11, encode:{x:0, y:[1,2]}, silent:true, data:[[0, -3, 3]], renderItem: colorbarRenderer(nesStops)},
    {type:'custom', xAxisIndex:8, yAxisIndex:12, encode:{x:0, y:[1,2]}, silent:true, data:[[0, -3, 4.25]], renderItem: colorbarRenderer(geneStops)}
  ],
  graphic:[
    {type:'text', left:2, top:0, style:{text:'a', fontSize:15, fill:'#111', fontFamily:FONT}},
    {type:'text', left:2, top:207, style:{text:'b', fontSize:15, fill:'#111', fontFamily:FONT}},
    {type:'text', left:205, top:0, style:{text:'c', fontSize:15, fill:'#111', fontFamily:FONT}},
    {type:'text', x:192, y:40, rotation:Math.PI/2, style:{text:'q-value < 0.05', fontSize:8, fill:txt, fontFamily:FONT, align:'center', verticalAlign:'middle'}},
    {type:'text', x:733, y:19, style:{text:'r', fontSize:10, fontStyle:'italic', fontWeight:'bold', fill:txt, fontFamily:FONT, align:'center', verticalAlign:'middle'}},
    {type:'line', shape:{x1:88, y1:446.5, x2:53, y2:446.5}, style:{stroke:'#111', lineWidth:1.3}},
    {type:'polygon', shape:{points:[[46,446.5],[55,443.5],[55,449.5]]}, style:{fill:'#111'}},
    {type:'line', shape:{x1:101, y1:446.5, x2:182, y2:446.5}, style:{stroke:'#111', lineWidth:1.3}},
    {type:'polygon', shape:{points:[[189,446.5],[180,443.5],[180,449.5]]}, style:{fill:'#111'}},
    {type:'text', x:70, y:453.5, style:{text:'Upreg. in NECs', fontSize:7, fill:txt, fontFamily:FONT, align:'center', verticalAlign:'middle'}},
    {type:'text', x:142, y:453.5, style:{text:'Upreg. in MLCs', fontSize:7, fill:txt, fontFamily:FONT, align:'center', verticalAlign:'middle'}}
  ]
};
chart.setOption(option);
</script></body></html>
